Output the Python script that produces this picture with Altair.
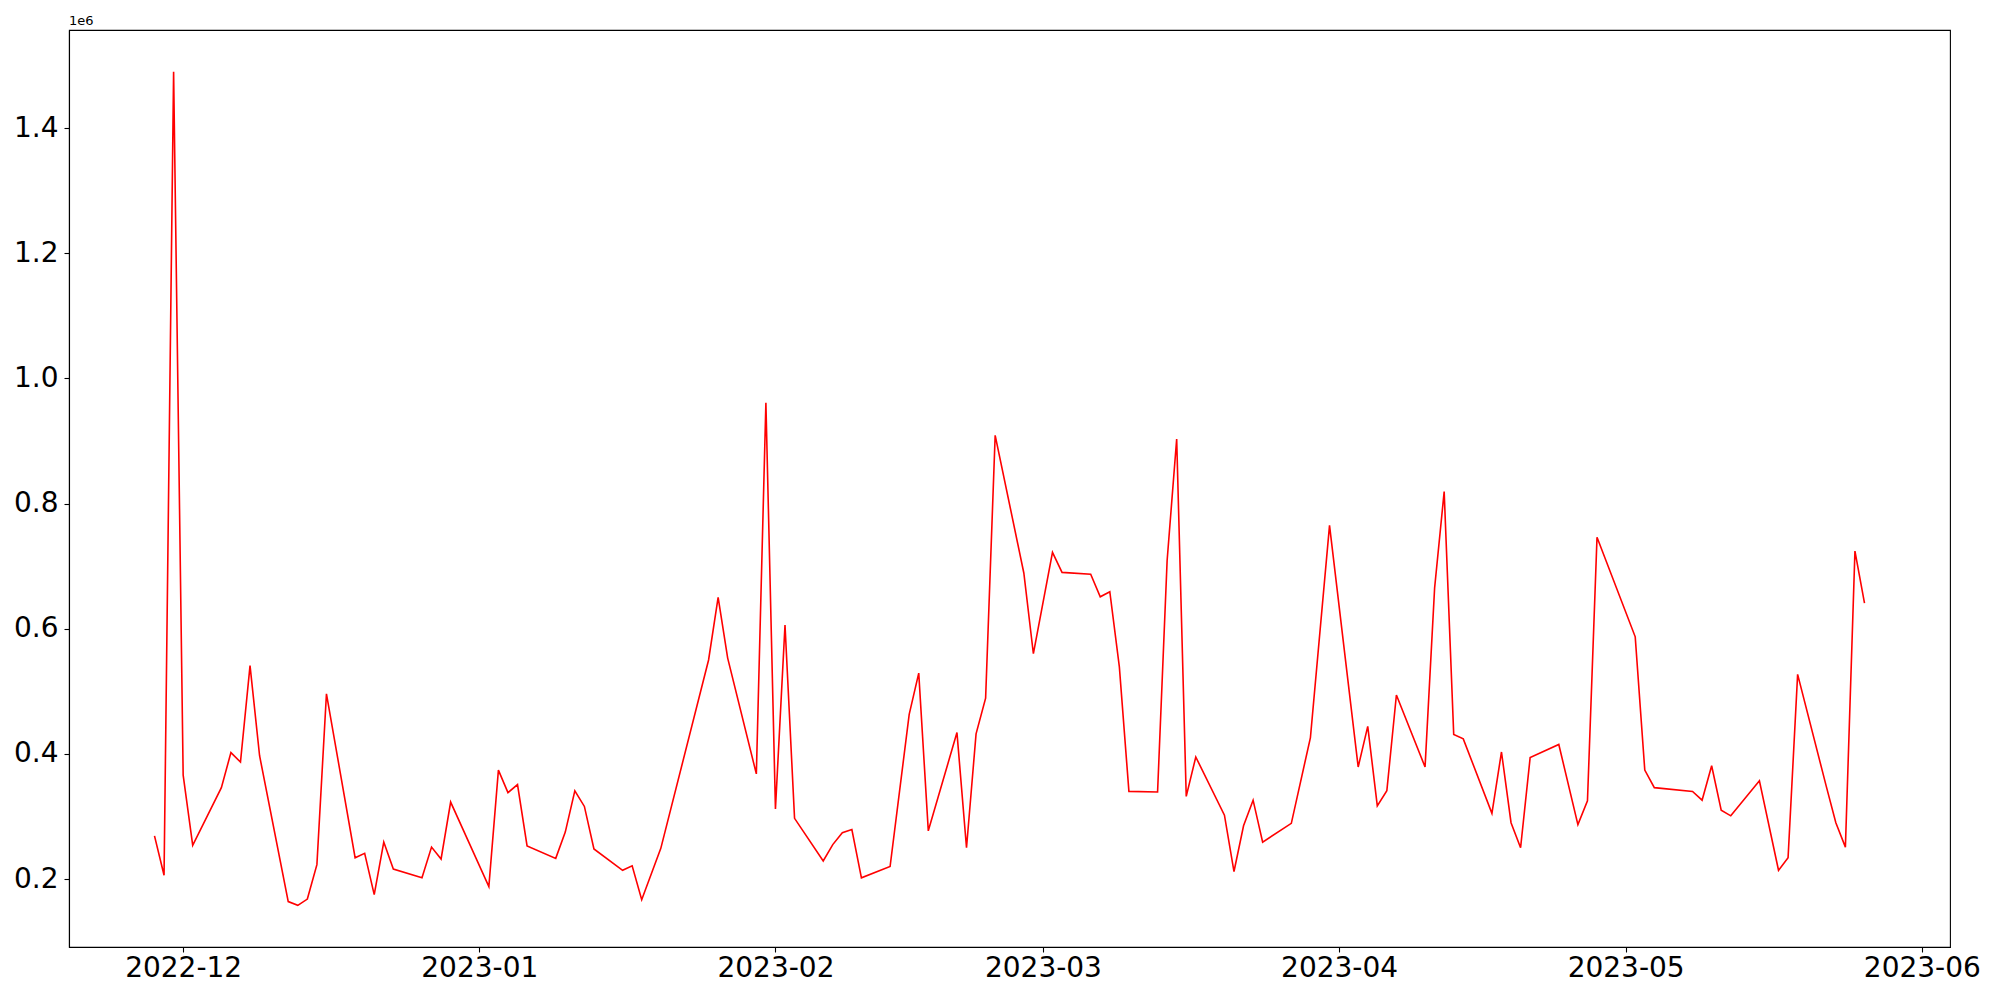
import altair as alt
import pandas as pd

dates = [
    "2022-11-28", "2022-11-29", "2022-11-30", "2022-12-01", "2022-12-02",
    "2022-12-05", "2022-12-06", "2022-12-07", "2022-12-08", "2022-12-09",
    "2022-12-12", "2022-12-13", "2022-12-14", "2022-12-15", "2022-12-16",
    "2022-12-19", "2022-12-20", "2022-12-21", "2022-12-22", "2022-12-23",
    "2022-12-26", "2022-12-27", "2022-12-28", "2022-12-29",
    "2023-01-02", "2023-01-03", "2023-01-04", "2023-01-05", "2023-01-06",
    "2023-01-09", "2023-01-10", "2023-01-11", "2023-01-12", "2023-01-13",
    "2023-01-16", "2023-01-17", "2023-01-18", "2023-01-20",
    "2023-01-25", "2023-01-26", "2023-01-27", "2023-01-30", "2023-01-31",
    "2023-02-01", "2023-02-02", "2023-02-03", "2023-02-06", "2023-02-07",
    "2023-02-08", "2023-02-09", "2023-02-10", "2023-02-13", "2023-02-15",
    "2023-02-16", "2023-02-17", "2023-02-20", "2023-02-21", "2023-02-22",
    "2023-02-23", "2023-02-24", "2023-02-27", "2023-02-28", "2023-03-02",
    "2023-03-03", "2023-03-06", "2023-03-07", "2023-03-08", "2023-03-09",
    "2023-03-10", "2023-03-13", "2023-03-14", "2023-03-15", "2023-03-16",
    "2023-03-17", "2023-03-20", "2023-03-21", "2023-03-22", "2023-03-23",
    "2023-03-24", "2023-03-27", "2023-03-29", "2023-03-31", "2023-04-03",
    "2023-04-04", "2023-04-05", "2023-04-06", "2023-04-07", "2023-04-10",
    "2023-04-11", "2023-04-12", "2023-04-13", "2023-04-14", "2023-04-17",
    "2023-04-18", "2023-04-19", "2023-04-20", "2023-04-21", "2023-04-24",
    "2023-04-26", "2023-04-27", "2023-04-28", "2023-05-02", "2023-05-03",
    "2023-05-04", "2023-05-08", "2023-05-09", "2023-05-10", "2023-05-11",
    "2023-05-12", "2023-05-15", "2023-05-17", "2023-05-18", "2023-05-19",
    "2023-05-22", "2023-05-23", "2023-05-24", "2023-05-25", "2023-05-26",
]

# values in units of 1e6
values = [
    0.269, 0.206, 1.490, 0.366, 0.254,
    0.346, 0.402, 0.387, 0.541, 0.397,
    0.164, 0.158, 0.168, 0.223, 0.496,
    0.234, 0.241, 0.175, 0.259, 0.216,
    0.202, 0.251, 0.232, 0.323,
    0.188, 0.374, 0.338, 0.351, 0.253,
    0.233, 0.275, 0.341, 0.316, 0.248,
    0.214, 0.221, 0.167, 0.249,
    0.550, 0.650, 0.553, 0.368, 0.961,
    0.312, 0.606, 0.297, 0.229, 0.255,
    0.274, 0.279, 0.202, 0.220, 0.463,
    0.529, 0.277, 0.434, 0.250, 0.432,
    0.489, 0.909, 0.689, 0.560, 0.722,
    0.690, 0.687, 0.651, 0.659, 0.539,
    0.340, 0.339, 0.709, 0.903, 0.332,
    0.395, 0.302, 0.212, 0.285, 0.326,
    0.259, 0.289, 0.426, 0.765, 0.379,
    0.444, 0.317, 0.341, 0.494, 0.379,
    0.665, 0.819, 0.431, 0.424, 0.305,
    0.403, 0.290, 0.250, 0.394, 0.415,
    0.287, 0.325, 0.746, 0.587, 0.374,
    0.346, 0.340, 0.326, 0.381, 0.310,
    0.301, 0.357, 0.214, 0.234, 0.527,
    0.348, 0.290, 0.251, 0.724, 0.641,
]

offset_label = ["1e6"]
y_ticks = [0.2, 0.4, 0.6, 0.8, 1.0, 1.2, 1.4]
x_tick_months = [(2022, 12), (2023, 1), (2023, 2), (2023, 3), (2023, 4), (2023, 5), (2023, 6)]

df = pd.DataFrame({"date": dates, "value": values})

x_values = [alt.DateTime(year=y, month=m, date=1, utc=True) for y, m in x_tick_months]
x_domain = [
    alt.DateTime(year=2022, month=11, date=19, hours=1, minutes=12, utc=True),
    alt.DateTime(year=2023, month=6, date=3, hours=22, minutes=48, utc=True),
]

font = "DejaVu Sans"

line = (
    alt.Chart(df)
    .mark_line(color="red", strokeWidth=1.6)
    .encode(
        x=alt.X(
            "date:T",
            scale=alt.Scale(type="utc", domain=x_domain, nice=False),
            axis=alt.Axis(
                values=x_values,
                format="%Y-%m",
                title=None,
                grid=False,
                labelFontSize=28,
                labelPadding=2,
                tickSize=5,
                labelFlush=False,
                labelOverlap=False,
            ),
        ),
        y=alt.Y(
            "value:Q",
            scale=alt.Scale(domain=[0.0914, 1.5566], nice=False, zero=False),
            axis=alt.Axis(
                values=y_ticks,
                format=".1f",
                title=None,
                grid=False,
                labelFontSize=28,
                labelPadding=6,
                tickSize=5,
                labelFlush=False,
                labelOverlap=False,
            ),
        ),
    )
)

offset_text = (
    alt.Chart(pd.DataFrame({"t": offset_label}))
    .mark_text(align="left", baseline="alphabetic", fontSize=13, font=font, color="black")
    .encode(x=alt.value(0), y=alt.value(-5), text="t:N")
)

chart = (
    alt.layer(line, offset_text)
    .properties(
        width=1881,
        height=917,
        autosize=alt.AutoSizeParams(type="none"),
        padding={"left": 61, "top": 22, "right": 40, "bottom": 45},
    )
    .configure_view(stroke="black", strokeWidth=1.1)
    .configure_axis(
        labelFont=font,
        labelColor="black",
        domainColor="black",
        domainWidth=1.1,
        tickColor="black",
        tickWidth=1.1,
    )
)

chart.save("out.html", embed_options={"renderer": "svg", "actions": False})
